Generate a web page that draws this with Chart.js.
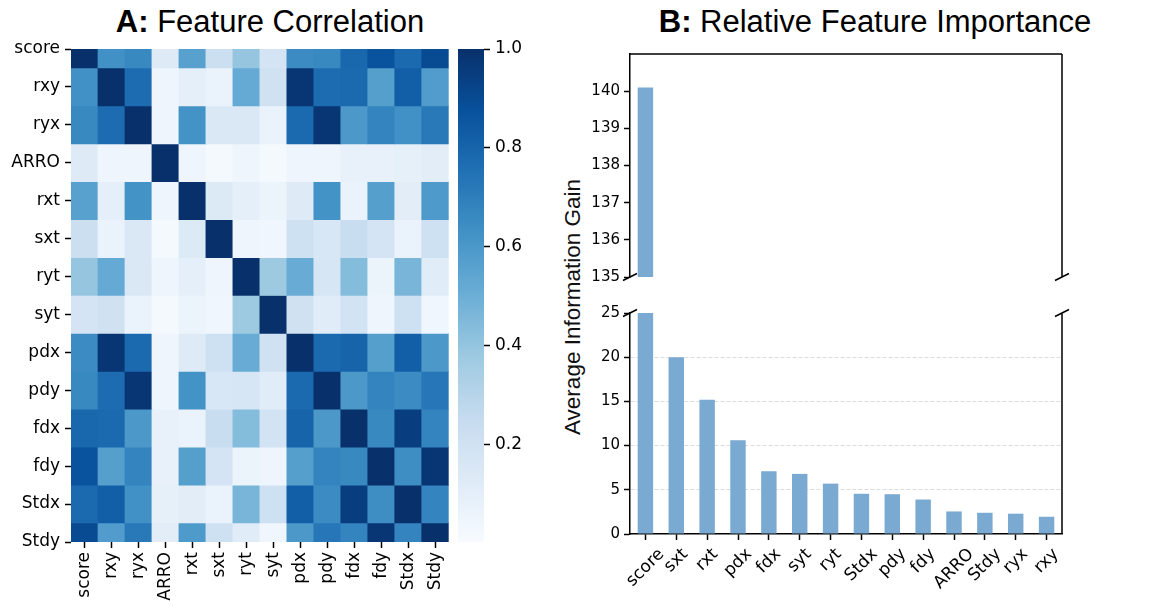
<!DOCTYPE html>
<html>
<head>
<meta charset="utf-8">
<script src="https://cdn.jsdelivr.net/npm/chart.js@4.4.1/dist/chart.umd.min.js"></script>
<style>
  html, body { margin: 0; padding: 0; background: #fff; }
  #wrap { position: relative; width: 1155px; height: 608px; overflow: hidden; }
  canvas { position: absolute; }
  .title {
    position: absolute; top: 4px; transform: translateX(-50%);
    font-family: "Liberation Sans", Arial, sans-serif; font-size: 31px;
    line-height: 36px; color: #000; white-space: nowrap;
  }
  .ylabel {
    position: absolute; left: 573px; top: 307px;
    transform: translate(-50%, -50%) rotate(-90deg);
    font-family: "Liberation Sans", Arial, sans-serif; font-size: 22.5px;
    color: #111; white-space: nowrap;
  }
</style>
</head>
<body>
<div id="wrap">
  <div class="title" style="left:270px"><b>A:</b> Feature Correlation</div>
  <div class="title" style="left:875px"><b>B:</b> Relative Feature Importance</div>
  <div class="ylabel">Average Information Gain</div>
  <canvas id="heat" width="460" height="608" style="left:0;top:0"></canvas>
  <canvas id="cbar" width="110" height="608" style="left:440px;top:0"></canvas>
  <canvas id="barTop" width="605" height="290" style="left:550px;top:0"></canvas>
  <canvas id="barBottom" width="605" height="308" style="left:550px;top:300px"></canvas>
</div>
<script>
// Matriz de correlação (valores absolutos)
const features = ['score', 'rxy', 'ryx', 'ARRO', 'rxt', 'sxt', 'ryt', 'syt', 'pdx', 'pdy', 'fdx', 'fdy', 'Stdx', 'Stdy'];
const corr = [
    [1.00, 0.63, 0.66, 0.13, 0.56, 0.22, 0.40, 0.18, 0.65, 0.66, 0.79, 0.87, 0.78, 0.90],
    [0.63, 1.00, 0.77, 0.05, 0.10, 0.07, 0.52, 0.20, 0.98, 0.77, 0.78, 0.57, 0.82, 0.58],
    [0.66, 0.77, 1.00, 0.05, 0.62, 0.15, 0.15, 0.07, 0.78, 0.98, 0.60, 0.68, 0.63, 0.72],
    [0.13, 0.05, 0.05, 1.00, 0.05, 0.02, 0.05, 0.02, 0.05, 0.05, 0.08, 0.08, 0.09, 0.11],
    [0.56, 0.10, 0.62, 0.05, 1.00, 0.14, 0.10, 0.06, 0.13, 0.62, 0.07, 0.57, 0.11, 0.59],
    [0.22, 0.07, 0.15, 0.02, 0.14, 1.00, 0.05, 0.04, 0.21, 0.16, 0.24, 0.18, 0.07, 0.21],
    [0.40, 0.52, 0.15, 0.05, 0.10, 0.05, 1.00, 0.38, 0.51, 0.17, 0.44, 0.06, 0.47, 0.12],
    [0.18, 0.20, 0.07, 0.02, 0.06, 0.04, 0.38, 1.00, 0.20, 0.12, 0.19, 0.05, 0.21, 0.04],
    [0.65, 0.98, 0.78, 0.05, 0.13, 0.21, 0.51, 0.20, 1.00, 0.78, 0.80, 0.57, 0.82, 0.60],
    [0.66, 0.77, 0.98, 0.05, 0.62, 0.16, 0.17, 0.12, 0.78, 1.00, 0.60, 0.68, 0.65, 0.73],
    [0.79, 0.78, 0.60, 0.08, 0.07, 0.24, 0.44, 0.19, 0.80, 0.60, 1.00, 0.66, 0.95, 0.68],
    [0.87, 0.57, 0.68, 0.08, 0.57, 0.18, 0.06, 0.05, 0.57, 0.68, 0.66, 1.00, 0.64, 0.98],
    [0.78, 0.82, 0.63, 0.09, 0.11, 0.07, 0.47, 0.21, 0.82, 0.65, 0.95, 0.64, 1.00, 0.68],
    [0.90, 0.58, 0.72, 0.11, 0.59, 0.21, 0.12, 0.04, 0.60, 0.73, 0.68, 0.98, 0.68, 1.00]
];
const cbarMin = 0.004;
const cbarMax = 1.0;
const cbarTicks = [0.2, 0.4, 0.6, 0.8, 1.0];

// Importância das features
const gainLabels = ['score', 'sxt', 'rxt', 'pdx', 'fdx', 'syt', 'ryt', 'Stdx', 'pdy', 'fdy', 'ARRO', 'Stdy', 'ryx', 'rxy'];
const gainValues = [140.1, 20.0, 15.2, 10.6, 7.1, 6.8, 5.7, 4.55, 4.5, 3.9, 2.55, 2.4, 2.3, 1.95];
const topTicks = [135, 136, 137, 138, 139, 140];
const bottomTicks = [0, 5, 10, 15, 20, 25];

// Paleta "Blues" do matplotlib
const blues = [
    [247, 251, 255], [222, 235, 247], [198, 219, 239], [158, 202, 225], [107, 174, 214],
    [66, 146, 198], [33, 113, 181], [8, 81, 156], [8, 48, 107]
];
const bluesColor = (t) => {
    t = Math.min(1, Math.max(0, t));
    const p = t * (blues.length - 1);
    const i = Math.min(Math.floor(p), blues.length - 2);
    const f = p - i;
    const c = blues[i].map((v, k) => Math.round(v + (blues[i + 1][k] - v) * f));
    return `rgb(${c[0]},${c[1]},${c[2]})`;
};

const tickFont = (size) => ({ family: '"DejaVu Sans", sans-serif', size: size });
const tickGrid = { drawOnChartArea: false, tickLength: 6, tickWidth: 1.5, tickColor: '#000', offset: false };
const noPlugins = { legend: { display: false }, tooltip: { enabled: false } };

// Heatmap: barras flutuantes, uma série por linha
new Chart(document.getElementById('heat'), {
    type: 'bar',
    data: {
        labels: features,
        datasets: corr.map((row, r) => ({
            data: row.map(() => [r - 0.5, r + 0.5]),
            backgroundColor: row.map(v => bluesColor((v - cbarMin) / (cbarMax - cbarMin))),
            barPercentage: 1,
            categoryPercentage: 1,
            grouped: false,
            borderWidth: 0
        }))
    },
    options: {
        responsive: false,
        animation: false,
        layout: { padding: { top: 49, right: 11, left: 0, bottom: 0 } },
        plugins: noPlugins,
        scales: {
            x: {
                grid: tickGrid,
                border: { display: false },
                ticks: { autoSkip: false, minRotation: 90, maxRotation: 90, padding: 4, color: '#000', font: tickFont(17) },
                afterFit: (s) => { s.height = 66; }
            },
            y: {
                type: 'linear',
                reverse: true,
                min: 0,
                max: features.length - 1,
                afterBuildTicks: (s) => { s.ticks = features.map((f, i) => ({ value: i })); },
                grid: tickGrid,
                border: { display: false },
                ticks: { callback: (v) => features[v], padding: 5, color: '#000', font: tickFont(17) },
                afterFit: (s) => { s.width = 71; }
            }
        }
    }
});

// Barra de cores
new Chart(document.getElementById('cbar'), {
    type: 'bar',
    data: {
        labels: [''],
        datasets: [{
            data: [[cbarMin, cbarMax]],
            backgroundColor: (c) => {
                const area = c.chart.chartArea;
                if (!area) return bluesColor(0.5);
                const g = c.chart.ctx.createLinearGradient(0, area.bottom, 0, area.top);
                blues.forEach((col, i) => g.addColorStop(i / (blues.length - 1), `rgb(${col})`));
                return g;
            },
            barPercentage: 1,
            categoryPercentage: 1,
            borderWidth: 0
        }]
    },
    options: {
        responsive: false,
        animation: false,
        layout: { padding: { top: 49, bottom: 66, left: 18, right: 0 } },
        plugins: noPlugins,
        scales: {
            x: { display: false },
            y: {
                position: 'right',
                min: cbarMin,
                max: cbarMax,
                afterBuildTicks: (s) => { s.ticks = cbarTicks.map(v => ({ value: v })); },
                grid: tickGrid,
                border: { display: false },
                ticks: { callback: (v) => v.toFixed(1), padding: 5, color: '#000', font: tickFont(17) },
                afterFit: (s) => { s.width = 66; }
            }
        }
    }
});

// Bordas extras e marcas de quebra do eixo
const spines = (sides, breakAt) => ({
    id: 'spines',
    afterDraw(chart) {
        const { ctx, chartArea: a } = chart;
        ctx.save();
        ctx.strokeStyle = '#000';
        ctx.lineWidth = 1.5;
        ctx.beginPath();
        if (sides.includes('top')) { ctx.moveTo(a.left, a.top); ctx.lineTo(a.right, a.top); }
        if (sides.includes('right')) { ctx.moveTo(a.right, a.top); ctx.lineTo(a.right, a.bottom); }
        const y = breakAt === 'bottom' ? a.bottom : a.top;
        [a.left, a.right].forEach(x => {
            ctx.moveTo(x - 7, y + 3.5);
            ctx.lineTo(x + 7, y - 3.5);
        });
        ctx.stroke();
        ctx.restore();
    }
});

// Rótulos a 45° centrados no tick (como no matplotlib)
const rotatedLabels = {
    id: 'rotatedLabels',
    afterDraw(chart) {
        const { ctx } = chart;
        const scale = chart.scales.x;
        const size = 17;
        ctx.save();
        ctx.font = `${size}px "DejaVu Sans", sans-serif`;
        ctx.fillStyle = '#000';
        ctx.textAlign = 'center';
        ctx.textBaseline = 'middle';
        gainLabels.forEach((label, i) => {
            const x = scale.getPixelForTick(i);
            const w = ctx.measureText(label).width;
            const half = (w + size * 1.1) * Math.SQRT1_2 / 2;
            ctx.save();
            ctx.translate(x, scale.top + 11 + half);
            ctx.rotate(-Math.PI / 4);
            ctx.fillText(label, 0, 0);
            ctx.restore();
        });
        ctx.restore();
    }
};

const barColor = '#7aa9d1';

new Chart(document.getElementById('barTop'), {
    type: 'bar',
    data: {
        labels: gainLabels,
        datasets: [{ data: gainValues, backgroundColor: barColor, barPercentage: 0.5, categoryPercentage: 1 }]
    },
    options: {
        responsive: false,
        animation: false,
        layout: { padding: { top: 54, bottom: 11, left: 0, right: 93 } },
        plugins: noPlugins,
        scales: {
            x: { display: false },
            y: {
                min: 135,
                max: 141,
                afterBuildTicks: (s) => { s.ticks = topTicks.map(v => ({ value: v })); },
                grid: tickGrid,
                border: { color: '#000', width: 1.5 },
                ticks: { padding: 4, color: '#000', font: tickFont(15) },
                afterFit: (s) => { s.width = 80; }
            }
        }
    },
    plugins: [spines(['top', 'right'], 'bottom')]
});

new Chart(document.getElementById('barBottom'), {
    type: 'bar',
    data: {
        labels: gainLabels,
        datasets: [{ data: gainValues, backgroundColor: barColor, barPercentage: 0.5, categoryPercentage: 1 }]
    },
    options: {
        responsive: false,
        animation: false,
        layout: { padding: { top: 10, bottom: 0, left: 0, right: 93 } },
        plugins: noPlugins,
        scales: {
            x: {
                grid: tickGrid,
                border: { color: '#000', width: 1.5 },
                ticks: { display: false, autoSkip: false },
                afterFit: (s) => { s.height = 74; }
            },
            y: {
                min: 0,
                max: 25,
                afterBuildTicks: (s) => { s.ticks = bottomTicks.map(v => ({ value: v })); },
                grid: {
                    drawOnChartArea: true,
                    tickLength: 6,
                    tickWidth: 1.5,
                    tickColor: '#000',
                    lineWidth: 1,
                    color: (c) => (c.tick && (c.tick.value === 0 || c.tick.value === 25)) ? 'rgba(0,0,0,0)' : '#dcdcdc'
                },
                border: { color: '#000', width: 1.5, dash: [4, 2] },
                ticks: { padding: 4, color: '#000', font: tickFont(15) },
                afterFit: (s) => { s.width = 80; }
            }
        }
    },
    plugins: [spines(['right'], 'top'), rotatedLabels]
});
</script>
</body>
</html>
